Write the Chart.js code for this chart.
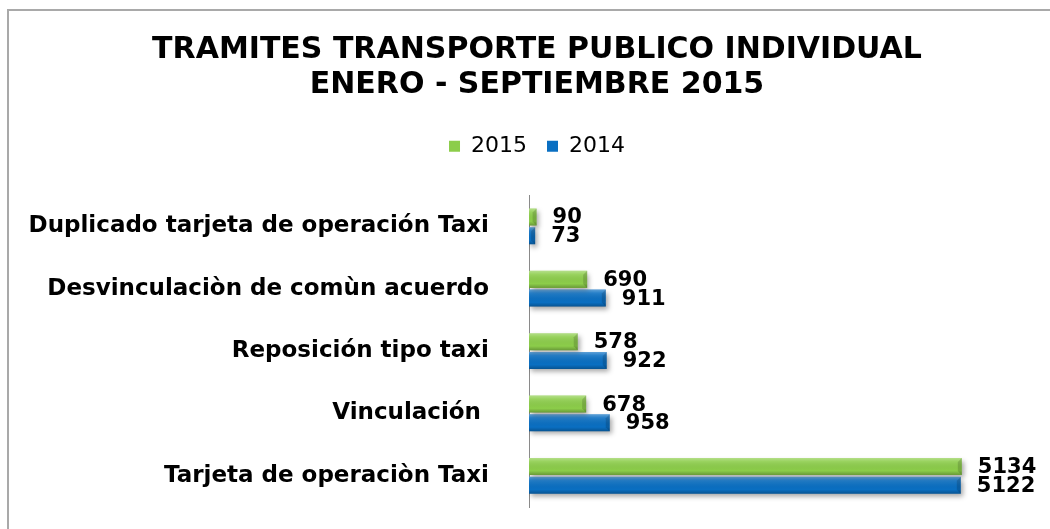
<!DOCTYPE html>
<html>
<head>
<meta charset="utf-8">
<script src="https://cdn.jsdelivr.net/npm/chart.js@4.4.1/dist/chart.umd.min.js"></script>
<style>
  html, body { margin: 0; padding: 0; background: #fff; width: 1050px; height: 529px; overflow: hidden; }
  #frame { position: absolute; left: 7px; top: 9px; width: 1100px; height: 600px; border-top: 2px solid #a9a9a9; border-left: 2px solid #a9a9a9; }
  #wrap { position: absolute; left: 0; top: 0; width: 1050px; height: 529px; }
</style>
</head>
<body>
<div id="frame"></div>
<div id="wrap"><canvas id="c" width="1050" height="529"></canvas></div>
<script>
const titleLines = ["TRAMITES TRANSPORTE PUBLICO INDIVIDUAL", "ENERO - SEPTIEMBRE 2015"];
const categories = [
  "Duplicado tarjeta de operación Taxi",
  "Desvinculaciòn de comùn acuerdo",
  "Reposición tipo taxi",
  "Vinculación ",
  "Tarjeta de operaciòn Taxi"
];
const seriesNames = ["2015", "2014"];
const values2015 = [90, 690, 578, 678, 5134];
const values2014 = [73, 911, 922, 958, 5122];

const FONT = "Verdana, 'DejaVu Sans', sans-serif";

const barStyle = {
  id: 'barStyle',
  beforeDatasetsDraw(chart) {
    const ctx = chart.ctx;
    ctx.save();
    ctx.shadowColor = 'rgba(0,0,0,0.35)';
    ctx.shadowBlur = 5;
    ctx.shadowOffsetX = 2;
    ctx.shadowOffsetY = 3;
  },
  afterDatasetsDraw(chart) {
    const ctx = chart.ctx;
    ctx.restore();
    chart.data.datasets.forEach((ds, di) => {
      const meta = chart.getDatasetMeta(di);
      meta.data.forEach((bar, i) => {
        const top = bar.y - bar.height / 2, bot = bar.y + bar.height / 2;
        const left = bar.base, right = bar.x;
        const g = ctx.createLinearGradient(0, top, 0, bot);
        g.addColorStop(0, 'rgba(255,255,255,0.35)');
        g.addColorStop(0.2, 'rgba(255,255,255,0.12)');
        g.addColorStop(0.75, 'rgba(0,0,0,0)');
        g.addColorStop(1, 'rgba(0,0,0,0.25)');
        ctx.fillStyle = g;
        ctx.fillRect(left, top, right - left, bot - top);
        ctx.fillStyle = 'rgba(0,0,0,0.15)';
        ctx.beginPath();
        ctx.moveTo(right, top);
        ctx.lineTo(right, bot);
        ctx.lineTo(right - 4, bot - 4);
        ctx.lineTo(right - 4, top + 4);
        ctx.closePath();
        ctx.fill();
        ctx.save();
        ctx.fillStyle = '#000';
        ctx.font = "bold 21px " + FONT;
        ctx.textAlign = 'left';
        ctx.textBaseline = 'middle';
        ctx.fillText(String(ds.data[i]), right + 16, bar.y + 1);
        ctx.restore();
      });
    });
  }
};

new Chart(document.getElementById('c'), {
  type: 'bar',
  data: {
    labels: categories,
    datasets: [
      { label: seriesNames[0], data: values2015, backgroundColor: '#8ccd4a', borderWidth: 0 },
      { label: seriesNames[1], data: values2014, backgroundColor: '#0a6fc2', borderWidth: 0 }
    ]
  },
  options: {
    indexAxis: 'y',
    responsive: false,
    animation: false,
    events: [],
    categoryPercentage: 0.6,
    barPercentage: 0.91,
    layout: { padding: { left: 24, right: 0, top: 0, bottom: 22 } },
    plugins: {
      title: {
        display: true,
        text: titleLines,
        color: '#000',
        font: { family: FONT, size: 30, weight: 'bold', lineHeight: 1.17 },
        padding: { top: 32.5, bottom: 12.5 }
      },
      legend: {
        display: true,
        position: 'top',
        labels: {
          color: '#000',
          font: { family: FONT, size: 22 },
          boxWidth: 11,
          boxHeight: 11,
          padding: 20
        }
      },
      tooltip: { enabled: false }
    },
    scales: {
      x: {
        display: true,
        position: 'top',
        min: 0, max: 6180,
        grid: { display: false, drawTicks: false },
        border: { display: false },
        ticks: { display: false },
        afterFit(scale) { scale.height = 28; scale.paddingLeft = 0; scale.paddingRight = 0; scale.paddingTop = 0; scale.paddingBottom = 0; }
      },
      y: {
        afterFit(scale) { scale.width = 505; scale.paddingTop = 0; scale.paddingBottom = 0; },
        grid: { display: false, drawTicks: false },
        border: { display: true, color: '#8a8a8a', width: 1 },
        ticks: {
          color: '#000',
          padding: 40,
          font: { family: FONT, size: 23, weight: 'bold' }
        }
      }
    }
  },
  plugins: [barStyle]
});
</script>
</body>
</html>
